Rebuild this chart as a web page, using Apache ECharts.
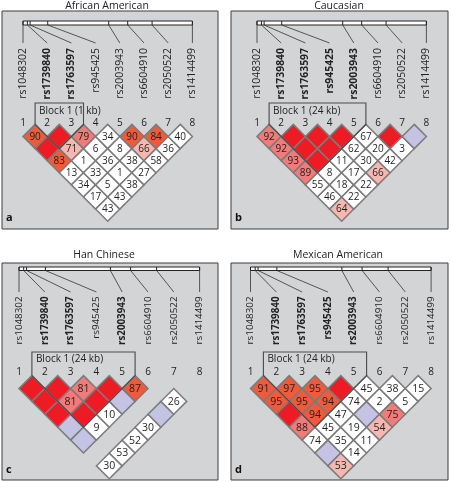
<!DOCTYPE html>
<html><head><meta charset="utf-8">
<script src="https://cdn.jsdelivr.net/npm/echarts@6/dist/echarts.min.js"></script>
<style>html,body{margin:0;padding:0;background:#fff}#c{width:451px;height:482px}</style>
</head><body><div id="c"></div>
<script>
// ---- data ----
const snpNames = ['rs1048302','rs1739840','rs1763597','rs945425','rs2003943','rs6604910','rs2050522','rs1414499'];
const snpPosKb = [0, 1.3, 2.1, 7.3, 25.3, 30.9, 38.1, 50.0];
const panelTitles = ['African American','Caucasian','Han Chinese','Mexican American'];
const panelLetters = ['a','b','c','d'];
const boldSnps = [
  [0,1,1,0,0,0,0,0],
  [0,1,1,1,1,0,0,0],
  [0,1,1,0,1,0,0,0],
  [0,1,1,1,1,0,0,0]
];
const blocks = [
  {from:2, to:3, label:'Block 1 (1 kb)'},
  {from:2, to:5, label:'Block 1 (24 kb)'},
  {from:2, to:5, label:'Block 1 (24 kb)'},
  {from:2, to:5, label:'Block 1 (24 kb)'}
];
// D' values: row i lists pairs (i, i+1..8); null = no number shown
const ldA = [[90,null,83,13,34,17,43],[null,71,1,33,5,43],[79,6,36,1,38],[34,8,38,27],[90,66,58],[84,36],[40]];
const ldB = [[92,92,93,89,55,46,64],[null,null,null,8,18,22],[null,null,11,17,22],[null,62,30,66],[67,20,42],[null,3],[null]];
const ldC = [[null,null,null,null,null,null,30],[null,81,null,9,null,53],[81,null,10,null,52],[null,null,null,30],[87,null,null],[null,26],[null]];
const ldD = [[91,95,null,88,74,null,53],[97,95,94,45,35,14],[95,94,47,19,11],[null,74,null,54],[45,2,75],[38,5],[15]];
// colour classes: R strong red, O orange-red, S salmon, P light pink, W white, B lavender, - no cell
const colA = ['OROWWWW','RPWWWW','SWWWW','WWWW','OPW','OW','W'];
const colB = ['SSSSWWP','RRRWWW','RRWWW','RWWP','WWW','RW','B'];
const colC = ['RRRBB-W','RSRW-W','SRW-W','RB-W','O-B','-W','-'];
const colD = ['OORSWBP','OOOWWW','OOWWW','RWBP','WWS','WW','W'];
const ldValues = [ldA, ldB, ldC, ldD];
const ldColors = [colA, colB, colC, colD];

// ---- styles / layout ----
const FONT = 'Open Sans';
const COLORS = {R:'#ed1c24', O:'#f05a3b', S:'#f07b78', P:'#f7b7b1', W:'#ffffff', B:'#c4c3e3'};
const panels = [
  {left:2, top:11, width:216, height:218, x1:21, s:24.2, row1:125.5, barTop:10, barH:4, lineEnd:32, labelTop:37, labelFont:10.4, numY:112, blockTop:92, blockTextY:100.5, cellFont:10, titleX:107, titleY:6, letterY:207},
  {left:231, top:11, width:217, height:218, x1:26, s:24.2, row1:125.5, barTop:10, barH:4, lineEnd:32, labelTop:37, labelFont:10.4, numY:112, blockTop:92, blockTextY:100.5, cellFont:10, titleX:339, titleY:6, letterY:207},
  {left:2, top:263, width:216, height:217, x1:17, s:25.8, row1:125.5, barTop:4, barH:3.5, lineEnd:29, labelTop:33.5, labelFont:9.8, numY:109, blockTop:89, blockTextY:96, cellFont:10.5, titleX:104, titleY:255, letterY:207},
  {left:231, top:263, width:217, height:217, x1:19.5, s:25.8, row1:125.5, barTop:4, barH:3.5, lineEnd:29, labelTop:33.5, labelFont:9.8, numY:109, blockTop:89, blockTextY:96, cellFont:10.5, titleX:338, titleY:255, letterY:207}
];
const totalKb = snpPosKb[snpPosKb.length-1] - snpPosKb[0];
const physIdx = p => 1 + 7*(p - snpPosKb[0])/totalKb;

const grids=[], xAxes=[], yAxes=[], series=[], graphics=[];
panels.forEach((P, n) => {
  const half = P.s/2;
  const xMin = 1 - P.x1/P.s, xMax = xMin + P.width/P.s;
  const yMin = 1 - P.row1/half, yMax = yMin + P.height/half;
  const rowOf = rel => yMin + rel/half;
  grids.push({left:P.left, top:P.top, width:P.width, height:P.height, show:true,
    backgroundColor:'#d3d4d6', borderColor:'#3c3c3c', borderWidth:1});
  xAxes.push({gridIndex:n, type:'value', min:xMin, max:xMax, show:false});
  yAxes.push({gridIndex:n, type:'value', inverse:true, min:yMin, max:yMax, show:false});

  // gene bar
  series.push({type:'custom', xAxisIndex:n, yAxisIndex:n, clip:false, silent:true,
    data:[[physIdx(snpPosKb[0]), physIdx(snpPosKb[7])]],
    renderItem:(params, api) => {
      const a = api.coord([api.value(0), rowOf(P.barTop)]);
      const b = api.coord([api.value(1), rowOf(P.barTop + P.barH)]);
      return {type:'rect', shape:{x:a[0], y:a[1], width:b[0]-a[0], height:b[1]-a[1]},
        style:{fill:'#ffffff', stroke:'#222', lineWidth:1}};
    }});
  // SNP ticks, connectors, labels, numbers
  const bold = boldSnps[n];
  series.push({type:'custom', xAxisIndex:n, yAxisIndex:n, clip:false, silent:true,
    data: snpNames.map((nm,k) => [k+1, physIdx(snpPosKb[k])]),
    renderItem:(params, api) => {
      const k = api.value(0), px = api.value(1), d = params.dataIndex;
      const bt = api.coord([px, rowOf(P.barTop)]);
      const bb = api.coord([px, rowOf(P.barTop + P.barH)]);
      const le = api.coord([k, rowOf(P.lineEnd)]);
      const lab = api.coord([k, rowOf(P.labelTop)]);
      const num = api.coord([k, rowOf(P.numY)]);
      return {type:'group', children:[
        {type:'line', shape:{x1:bt[0], y1:bt[1], x2:bb[0], y2:bb[1]}, style:{stroke:'#222', lineWidth:1}},
        {type:'line', shape:{x1:bb[0], y1:bb[1], x2:le[0], y2:le[1]}, style:{stroke:'#333', lineWidth:0.8}},
        {type:'text', x:lab[0], y:lab[1], rotation:Math.PI/2,
          style:{text:snpNames[d], x:0, y:0, align:'right', verticalAlign:'middle',
            fontSize:P.labelFont, fontFamily:FONT, fontWeight: bold[d] ? 'bold' : 'normal', fill:'#222'}},
        {type:'text', style:{text:String(k), x:num[0], y:num[1], align:'center', verticalAlign:'middle',
            fontSize:10, fontFamily:FONT, fill:'#222'}}
      ]};
    }});

  // LD cells
  const ld = ldValues[n], cl = ldColors[n];
  const data = [], meta = [];
  for (let i=1;i<=7;i++) for (let j=i+1;j<=8;j++) {
    const c = cl[i-1][j-i-1];
    if (c === '-') continue;
    data.push([(i+j)/2, j-i]);
    meta.push({c, v: ld[i-1][j-i-1]});
  }
  series.push({type:'custom', xAxisIndex:n, yAxisIndex:n, clip:false, silent:true, data,
    renderItem:(params, api) => {
      const m = meta[params.dataIndex];
      const cx = api.value(0), r = api.value(1);
      const t = api.coord([cx, r-1]), rt = api.coord([cx+0.5, r]), b = api.coord([cx, r+1]), l = api.coord([cx-0.5, r]);
      const c = api.coord([cx, r]);
      const ch = [{type:'polygon', shape:{points:[t, rt, b, l]},
        style:{fill:COLORS[m.c], stroke:'#7b7b7b', lineWidth:1.5}}];
      if (m.v != null) ch.push({type:'text', style:{text:String(m.v), x:c[0], y:c[1]+0.5, align:'center',
        verticalAlign:'middle', fontSize:P.cellFont, fontFamily:FONT, fill:'#231f20'}});
      return {type:'group', children:ch};
    }});

  // block outline
  const B = blocks[n];
  series.push({type:'custom', xAxisIndex:n, yAxisIndex:n, clip:false, silent:true,
    data:[[B.from, B.to]],
    renderItem:(params, api) => {
      const f = api.value(0), t = api.value(1);
      const top = rowOf(P.blockTop);
      const pts = [api.coord([f-0.5, 0]), api.coord([f-0.5, top]), api.coord([t+0.5, top]),
        api.coord([t+0.5, 0]), api.coord([(f+t)/2, t-f+1]), api.coord([f-0.5, 0])];
      const tp = api.coord([f-0.5, rowOf(P.blockTextY)]);
      return {type:'group', children:[
        {type:'polyline', shape:{points:pts}, style:{stroke:'#4a4a4a', lineWidth:1.1, fill:null}},
        {type:'text', style:{text:B.label, x:tp[0]+4, y:tp[1], align:'left', verticalAlign:'middle',
          fontSize:10, fontFamily:FONT, fill:'#222'}}
      ]};
    }});

  graphics.push({type:'text', x:P.titleX, y:P.titleY, style:{text:panelTitles[n], align:'center',
    verticalAlign:'middle', fontSize:10.5, fontFamily:FONT, fill:'#222'}});
  graphics.push({type:'text', x:P.left+4, y:P.top+P.letterY, style:{text:panelLetters[n], align:'left',
    verticalAlign:'middle', fontSize:11, fontWeight:'bold', fontFamily:FONT, fill:'#111'}});
});

const chart = echarts.init(document.getElementById('c'), null, {renderer:'canvas'});
chart.setOption({animation:false, grid:grids, xAxis:xAxes, yAxis:yAxes, series, graphic:graphics});
</script></body></html>
